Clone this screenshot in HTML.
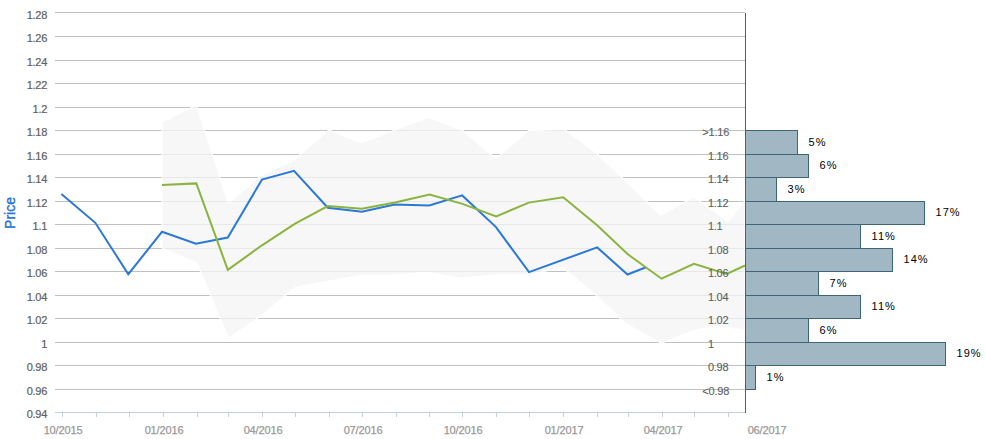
<!DOCTYPE html><html><head><meta charset="utf-8"><style>html,body{margin:0;padding:0;background:#fff;width:986px;height:439px;overflow:hidden}svg{display:block}</style></head><body>
<svg width="986" height="439" viewBox="0 0 986 439" style="font-family:'Liberation Sans', sans-serif">
<text x="47" y="19" text-anchor="end" font-size="11" letter-spacing="-0.3" fill="#606060" stroke="#606060" stroke-width="0.2">1.28</text>
<text x="47" y="42" text-anchor="end" font-size="11" letter-spacing="-0.3" fill="#606060" stroke="#606060" stroke-width="0.2">1.26</text>
<text x="47" y="66" text-anchor="end" font-size="11" letter-spacing="-0.3" fill="#606060" stroke="#606060" stroke-width="0.2">1.24</text>
<text x="47" y="89" text-anchor="end" font-size="11" letter-spacing="-0.3" fill="#606060" stroke="#606060" stroke-width="0.2">1.22</text>
<text x="47" y="113" text-anchor="end" font-size="11" letter-spacing="-0.3" fill="#606060" stroke="#606060" stroke-width="0.2">1.2</text>
<text x="47" y="136" text-anchor="end" font-size="11" letter-spacing="-0.3" fill="#606060" stroke="#606060" stroke-width="0.2">1.18</text>
<text x="47" y="160" text-anchor="end" font-size="11" letter-spacing="-0.3" fill="#606060" stroke="#606060" stroke-width="0.2">1.16</text>
<text x="47" y="183" text-anchor="end" font-size="11" letter-spacing="-0.3" fill="#606060" stroke="#606060" stroke-width="0.2">1.14</text>
<text x="47" y="207" text-anchor="end" font-size="11" letter-spacing="-0.3" fill="#606060" stroke="#606060" stroke-width="0.2">1.12</text>
<text x="47" y="230" text-anchor="end" font-size="11" letter-spacing="-0.3" fill="#606060" stroke="#606060" stroke-width="0.2">1.1</text>
<text x="47" y="254" text-anchor="end" font-size="11" letter-spacing="-0.3" fill="#606060" stroke="#606060" stroke-width="0.2">1.08</text>
<text x="47" y="277" text-anchor="end" font-size="11" letter-spacing="-0.3" fill="#606060" stroke="#606060" stroke-width="0.2">1.06</text>
<text x="47" y="301" text-anchor="end" font-size="11" letter-spacing="-0.3" fill="#606060" stroke="#606060" stroke-width="0.2">1.04</text>
<text x="47" y="324" text-anchor="end" font-size="11" letter-spacing="-0.3" fill="#606060" stroke="#606060" stroke-width="0.2">1.02</text>
<text x="47" y="348" text-anchor="end" font-size="11" letter-spacing="-0.3" fill="#606060" stroke="#606060" stroke-width="0.2">1</text>
<text x="47" y="371" text-anchor="end" font-size="11" letter-spacing="-0.3" fill="#606060" stroke="#606060" stroke-width="0.2">0.98</text>
<text x="47" y="395" text-anchor="end" font-size="11" letter-spacing="-0.3" fill="#606060" stroke="#606060" stroke-width="0.2">0.96</text>
<text x="47" y="418" text-anchor="end" font-size="11" letter-spacing="-0.3" fill="#606060" stroke="#606060" stroke-width="0.2">0.94</text>
<line x1="55" y1="12.5" x2="745" y2="12.5" stroke="#c0c0c0" stroke-width="1"/>
<line x1="55" y1="36.5" x2="745" y2="36.5" stroke="#c0c0c0" stroke-width="1"/>
<line x1="55" y1="60.5" x2="745" y2="60.5" stroke="#c0c0c0" stroke-width="1"/>
<line x1="55" y1="83.5" x2="745" y2="83.5" stroke="#c0c0c0" stroke-width="1"/>
<line x1="55" y1="107.5" x2="745" y2="107.5" stroke="#c0c0c0" stroke-width="1"/>
<line x1="55" y1="130.5" x2="745" y2="130.5" stroke="#c0c0c0" stroke-width="1"/>
<line x1="55" y1="154.5" x2="745" y2="154.5" stroke="#c0c0c0" stroke-width="1"/>
<line x1="55" y1="177.5" x2="745" y2="177.5" stroke="#c0c0c0" stroke-width="1"/>
<line x1="55" y1="201.5" x2="745" y2="201.5" stroke="#c0c0c0" stroke-width="1"/>
<line x1="55" y1="224.5" x2="745" y2="224.5" stroke="#c0c0c0" stroke-width="1"/>
<line x1="55" y1="248.5" x2="745" y2="248.5" stroke="#c0c0c0" stroke-width="1"/>
<line x1="55" y1="271.5" x2="745" y2="271.5" stroke="#c0c0c0" stroke-width="1"/>
<line x1="55" y1="295.5" x2="745" y2="295.5" stroke="#c0c0c0" stroke-width="1"/>
<line x1="55" y1="318.5" x2="745" y2="318.5" stroke="#c0c0c0" stroke-width="1"/>
<line x1="55" y1="342.5" x2="745" y2="342.5" stroke="#c0c0c0" stroke-width="1"/>
<line x1="55" y1="365.5" x2="745" y2="365.5" stroke="#c0c0c0" stroke-width="1"/>
<line x1="55" y1="389.5" x2="745" y2="389.5" stroke="#c0c0c0" stroke-width="1"/>
<polygon points="162.0,122.0 196.3,105.2 228.3,203.0 261.5,175.3 294.0,160.0 328.7,130.0 361.2,142.9 428.8,117.3 463.0,130.6 495.9,158.7 528.5,130.6 564.0,129.2 596.5,153.0 660.8,215.2 693.8,197.0 728.0,221.6 745.0,200.4 745.0,330.1 716.8,326.3 694.8,330.0 661.5,343.2 625.8,323.9 596.5,295.6 562.3,267.0 529.5,275.0 497.0,274.7 462.4,278.1 426.0,272.3 393.1,275.0 361.6,275.0 295.3,287.4 261.5,315.5 228.6,338.4 196.7,262.8 162.0,248.0" fill="rgba(245,245,245,0.76)" stroke="#ffffff" stroke-width="1.2" stroke-linejoin="round"/>
<line x1="55" y1="412.5" x2="745" y2="412.5" stroke="#c0d0e0" stroke-width="1"/>
<line x1="62.5" y1="413" x2="62.5" y2="417" stroke="#c0d0e0" stroke-width="1"/>
<line x1="96.5" y1="413" x2="96.5" y2="417" stroke="#c0d0e0" stroke-width="1"/>
<line x1="129.5" y1="413" x2="129.5" y2="417" stroke="#c0d0e0" stroke-width="1"/>
<line x1="163.5" y1="413" x2="163.5" y2="417" stroke="#c0d0e0" stroke-width="1"/>
<line x1="197.5" y1="413" x2="197.5" y2="417" stroke="#c0d0e0" stroke-width="1"/>
<line x1="228.5" y1="413" x2="228.5" y2="417" stroke="#c0d0e0" stroke-width="1"/>
<line x1="262.5" y1="413" x2="262.5" y2="417" stroke="#c0d0e0" stroke-width="1"/>
<line x1="295.5" y1="413" x2="295.5" y2="417" stroke="#c0d0e0" stroke-width="1"/>
<line x1="329.5" y1="413" x2="329.5" y2="417" stroke="#c0d0e0" stroke-width="1"/>
<line x1="362.5" y1="413" x2="362.5" y2="417" stroke="#c0d0e0" stroke-width="1"/>
<line x1="396.5" y1="413" x2="396.5" y2="417" stroke="#c0d0e0" stroke-width="1"/>
<line x1="429.5" y1="413" x2="429.5" y2="417" stroke="#c0d0e0" stroke-width="1"/>
<line x1="462.5" y1="413" x2="462.5" y2="417" stroke="#c0d0e0" stroke-width="1"/>
<line x1="496.5" y1="413" x2="496.5" y2="417" stroke="#c0d0e0" stroke-width="1"/>
<line x1="529.5" y1="413" x2="529.5" y2="417" stroke="#c0d0e0" stroke-width="1"/>
<line x1="563.5" y1="413" x2="563.5" y2="417" stroke="#c0d0e0" stroke-width="1"/>
<line x1="597.5" y1="413" x2="597.5" y2="417" stroke="#c0d0e0" stroke-width="1"/>
<line x1="628.5" y1="413" x2="628.5" y2="417" stroke="#c0d0e0" stroke-width="1"/>
<line x1="662.5" y1="413" x2="662.5" y2="417" stroke="#c0d0e0" stroke-width="1"/>
<line x1="694.5" y1="413" x2="694.5" y2="417" stroke="#c0d0e0" stroke-width="1"/>
<line x1="728.5" y1="413" x2="728.5" y2="417" stroke="#c0d0e0" stroke-width="1"/>
<polyline points="61.4,194.1 95.3,222.8 128.3,274.2 162.0,231.8 195.9,243.8 227.8,237.6 262.0,179.5 294.0,170.9 327.8,207.8 361.9,211.7 394.6,204.6 429.3,205.5 462.2,195.4 496.0,227.1 529.0,272.1 597.2,247.4 627.5,274.5 646.0,267.2" fill="none" stroke="#2c78d6" stroke-width="2" stroke-linejoin="miter" stroke-linecap="butt"/>
<polyline points="162.0,185.1 196.3,183.4 227.8,269.8 262.0,245.3 294.7,223.8 327.8,206.1 361.9,208.7 395.0,202.5 429.6,194.6 462.4,203.9 496.2,216.4 528.8,202.6 563.2,197.3 597.4,225.6 627.8,254.3 661.6,278.7 693.9,263.8 726.8,273.9 745.0,265.5" fill="none" stroke="#8bb33f" stroke-width="2" stroke-linejoin="miter" stroke-linecap="butt"/>
<text x="702.20" y="136" font-size="11" letter-spacing="-0.15" fill="#606060" stroke="#606060" stroke-width="0.1">&gt;1.16</text>
<text x="708.00" y="160" font-size="11" letter-spacing="-0.3" fill="#606060" stroke="#606060" stroke-width="0.1">1.16</text>
<text x="708.00" y="183" font-size="11" letter-spacing="-0.3" fill="#606060" stroke="#606060" stroke-width="0.1">1.14</text>
<text x="708.00" y="207" font-size="11" letter-spacing="-0.3" fill="#606060" stroke="#606060" stroke-width="0.1">1.12</text>
<text x="708.00" y="230" font-size="11" letter-spacing="-0.3" fill="#606060" stroke="#606060" stroke-width="0.1">1.1</text>
<text x="708.00" y="254" font-size="11" letter-spacing="-0.3" fill="#606060" stroke="#606060" stroke-width="0.1">1.08</text>
<text x="708.00" y="277" font-size="11" letter-spacing="-0.3" fill="#606060" stroke="#606060" stroke-width="0.1">1.06</text>
<text x="708.00" y="301" font-size="11" letter-spacing="-0.3" fill="#606060" stroke="#606060" stroke-width="0.1">1.04</text>
<text x="708.00" y="324" font-size="11" letter-spacing="-0.3" fill="#606060" stroke="#606060" stroke-width="0.1">1.02</text>
<text x="708.00" y="348" font-size="11" letter-spacing="-0.3" fill="#606060" stroke="#606060" stroke-width="0.1">1</text>
<text x="708.00" y="371" font-size="11" letter-spacing="-0.3" fill="#606060" stroke="#606060" stroke-width="0.1">0.98</text>
<text x="702.20" y="395" font-size="11" letter-spacing="-0.15" fill="#606060" stroke="#606060" stroke-width="0.1">&lt;0.98</text>
<rect x="745.5" y="130.5" width="52" height="24" fill="#a2b7c4" stroke="#3e6576" stroke-width="1"/>
<text x="808.6" y="145.5" font-size="11" letter-spacing="1" fill="#000">5%</text>
<rect x="745.5" y="154.5" width="63" height="23" fill="#a2b7c4" stroke="#3e6576" stroke-width="1"/>
<text x="819.6" y="169.0" font-size="11" letter-spacing="1" fill="#000">6%</text>
<rect x="745.5" y="177.5" width="31" height="24" fill="#a2b7c4" stroke="#3e6576" stroke-width="1"/>
<text x="787.6" y="192.5" font-size="11" letter-spacing="1" fill="#000">3%</text>
<rect x="745.5" y="201.5" width="179" height="23" fill="#a2b7c4" stroke="#3e6576" stroke-width="1"/>
<text x="935.6" y="216.0" font-size="11" letter-spacing="1" fill="#000">17%</text>
<rect x="745.5" y="224.5" width="115" height="24" fill="#a2b7c4" stroke="#3e6576" stroke-width="1"/>
<text x="871.6" y="239.5" font-size="11" letter-spacing="1" fill="#000">11%</text>
<rect x="745.5" y="248.5" width="147" height="23" fill="#a2b7c4" stroke="#3e6576" stroke-width="1"/>
<text x="903.6" y="263.0" font-size="11" letter-spacing="1" fill="#000">14%</text>
<rect x="745.5" y="271.5" width="73" height="24" fill="#a2b7c4" stroke="#3e6576" stroke-width="1"/>
<text x="829.6" y="286.5" font-size="11" letter-spacing="1" fill="#000">7%</text>
<rect x="745.5" y="295.5" width="115" height="23" fill="#a2b7c4" stroke="#3e6576" stroke-width="1"/>
<text x="871.6" y="310.0" font-size="11" letter-spacing="1" fill="#000">11%</text>
<rect x="745.5" y="318.5" width="63" height="24" fill="#a2b7c4" stroke="#3e6576" stroke-width="1"/>
<text x="819.6" y="333.5" font-size="11" letter-spacing="1" fill="#000">6%</text>
<rect x="745.5" y="342.5" width="200" height="23" fill="#a2b7c4" stroke="#3e6576" stroke-width="1"/>
<text x="956.6" y="357.0" font-size="11" letter-spacing="1" fill="#000">19%</text>
<rect x="745.5" y="365.5" width="10" height="24" fill="#a2b7c4" stroke="#3e6576" stroke-width="1"/>
<text x="766.6" y="380.5" font-size="11" letter-spacing="1" fill="#000">1%</text>
<line x1="745.5" y1="13" x2="745.5" y2="413" stroke="#3e6576" stroke-width="1"/>
<text x="63" y="434" letter-spacing="-0.15" text-anchor="middle" font-size="11" fill="#999999" stroke="#999999" stroke-width="0.25">10/2015</text>
<text x="164" y="434" letter-spacing="-0.15" text-anchor="middle" font-size="11" fill="#999999" stroke="#999999" stroke-width="0.25">01/2016</text>
<text x="263" y="434" letter-spacing="-0.15" text-anchor="middle" font-size="11" fill="#999999" stroke="#999999" stroke-width="0.25">04/2016</text>
<text x="363" y="434" letter-spacing="-0.15" text-anchor="middle" font-size="11" fill="#999999" stroke="#999999" stroke-width="0.25">07/2016</text>
<text x="463" y="434" letter-spacing="-0.15" text-anchor="middle" font-size="11" fill="#999999" stroke="#999999" stroke-width="0.25">10/2016</text>
<text x="564" y="434" letter-spacing="-0.15" text-anchor="middle" font-size="11" fill="#999999" stroke="#999999" stroke-width="0.25">01/2017</text>
<text x="663" y="434" letter-spacing="-0.15" text-anchor="middle" font-size="11" fill="#999999" stroke="#999999" stroke-width="0.25">04/2017</text>
<text x="767" y="434" letter-spacing="-0.15" text-anchor="middle" font-size="11" fill="#999999" stroke="#999999" stroke-width="0.25">06/2017</text>
<text transform="translate(15,213) rotate(-90)" text-anchor="middle" font-size="14" fill="#2370d8" stroke="#2370d8" stroke-width="0.35">Price</text>
</svg></body></html>
